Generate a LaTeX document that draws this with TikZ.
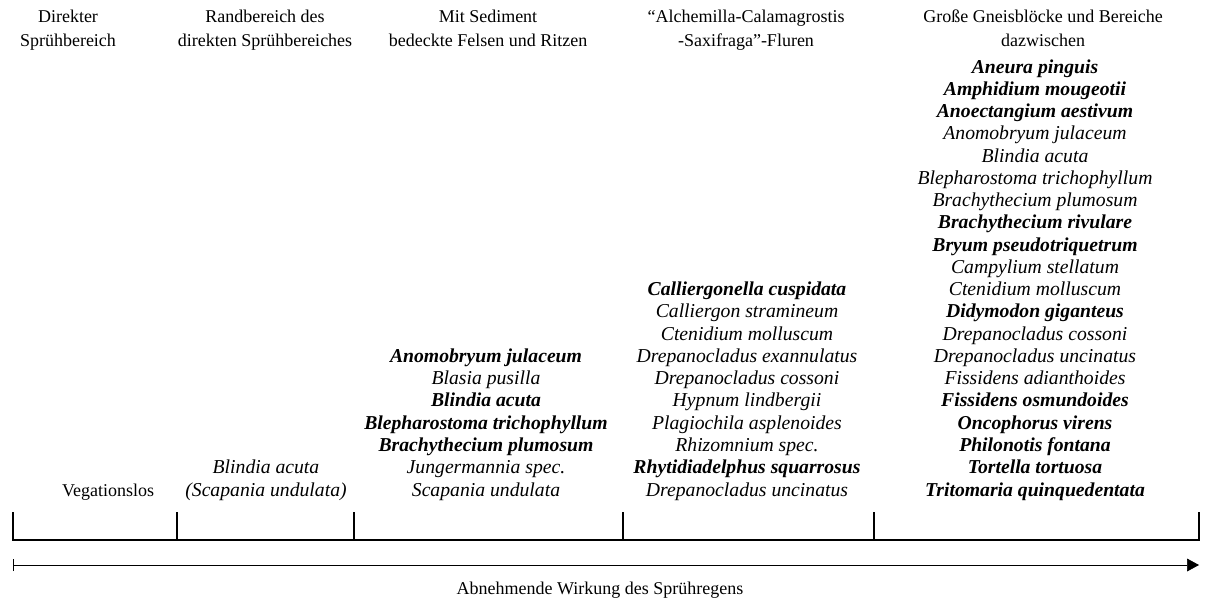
\documentclass[tikz,border=0pt]{standalone}
\usepackage{fontspec}
\setmainfont{Liberation Serif}
\usetikzlibrary{arrows.meta, positioning}
\newcommand{\fett}[1]{{\bfseries #1}}

\begin{document}
\begin{tikzpicture}[x=0.025cm, y=-0.025cm, >=Latex,
        kopf/.style={align=center, anchor=base, inner sep=0pt,
            font=\fontsize{12.8}{17}\selectfont},
        liste/.style={align=center, anchor=base, inner sep=0pt,
            font=\fontsize{14}{15.83}\selectfont\itshape},
        achse/.style={line width=1.5pt},
        pfeil/.style={line width=0.5pt, {Bar[width=3mm, line width=1pt]}-{Triangle[length=3mm, width=3.2mm]}}]
        \useasboundingbox (0,0) rectangle (1207,601);
        \node[kopf] (h1) at (68,46)   {Direkter\\Sprühbereich};
        \node[kopf] (h2) at (265,46)  {Randbereich des\\direkten Sprühbereiches};
        \node[kopf] (h3) at (488,46)  {Mit Sediment\\bedeckte Felsen und Ritzen};
        \node[kopf] (h4) at (746,46)  {“Alchemilla-Calamagrostis\\-Saxifraga”-Fluren};
        \node[kopf] (h5) at (1043,46) {Große Gneisblöcke und Bereiche\\dazwischen};
        \node[kopf] (s1) at (108,496) {Vegationslos};
        \node[liste] (s2) at (266,496) {Blindia acuta\\(Scapania undulata)};
        \node[liste] (s3) at (486,496) {\fett{Anomobryum julaceum}\\Blasia pusilla\\\fett{Blindia acuta}\\
            \fett{Blepharostoma trichophyllum}\\\fett{Brachythecium plumosum}\\Jungermannia spec.\\Scapania undulata};
        \node[liste] (s4) at (747,496) {\fett{Calliergonella cuspidata}\\Calliergon stramineum\\Ctenidium molluscum\\
            Drepanocladus exannulatus\\Drepanocladus cossoni\\Hypnum lindbergii\\Plagiochila asplenoides\\
            Rhizomnium spec.\\\fett{Rhytidiadelphus squarrosus}\\Drepanocladus uncinatus};
        \node[liste] (s5) at (1035,496) {\fett{Aneura pinguis}\\\fett{Amphidium mougeotii}\\\fett{Anoectangium aestivum}\\
            Anomobryum julaceum\\Blindia acuta\\Blepharostoma trichophyllum\\Brachythecium plumosum\\
            \fett{Brachythecium rivulare}\\\fett{Bryum pseudotriquetrum}\\Campylium stellatum\\Ctenidium molluscum\\
            \fett{Didymodon giganteus}\\Drepanocladus cossoni\\Drepanocladus uncinatus\\Fissidens adianthoides\\
            \fett{Fissidens osmundoides}\\\fett{Oncophorus virens}\\\fett{Philonotis fontana}\\\fett{Tortella tortuosa}\\
            \fett{Tritomaria quinquedentata}};
        \foreach \n/\x in {0/13,1/177,2/354,3/623,4/874,5/1199} \coordinate (t\n) at (\x,540);
        \draw[achse] (t0) -- (t5);
        \foreach \n in {0,...,5} \draw[achse, line cap=rect] (t\n) -- ++(0,-27);
        \coordinate (pa) at (13,565);
        \coordinate (pe) at (1199,565);
        \draw[pfeil] (pa) -- (pe);
        \node[kopf] (wirkung) at (600,594) {Abnehmende Wirkung des Sprühregens};
    \end{tikzpicture}
\end{document}
